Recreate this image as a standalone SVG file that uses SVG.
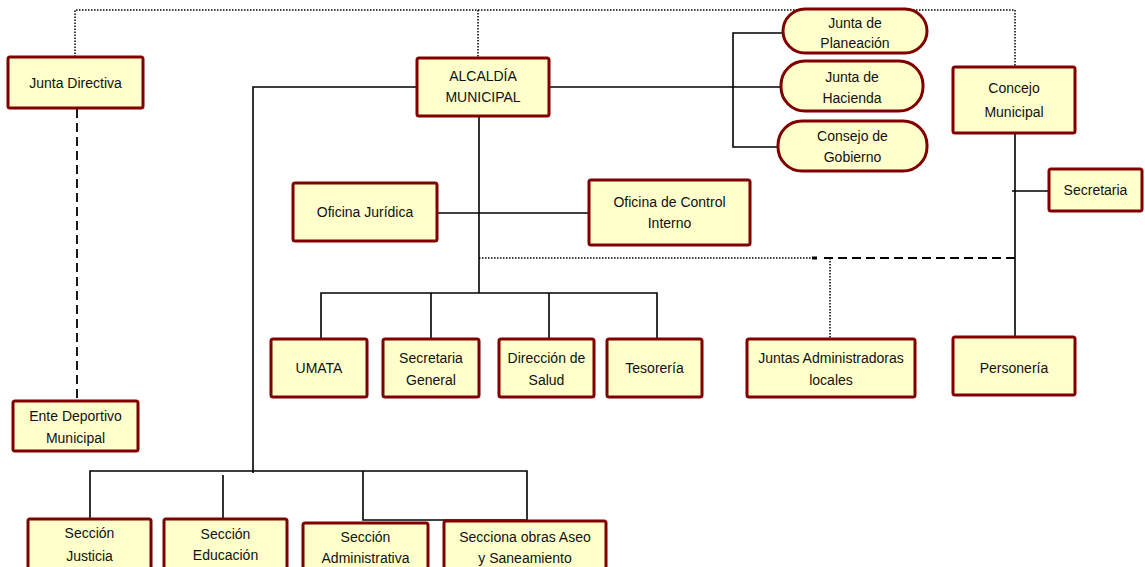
<svg xmlns="http://www.w3.org/2000/svg" width="1145" height="567" viewBox="0 0 1145 567">
<style>
.box{fill:#ffffcc;stroke:#800000;stroke-width:3}
.t{font-family:"Liberation Sans",Arial,sans-serif;font-size:14px;fill:#111;text-anchor:middle}
.s{fill:none;stroke:#000;stroke-width:1.6}
.dot{fill:none;stroke:#000;stroke-width:1.5;stroke-dasharray:1.5 1.5}
.dash{fill:none;stroke:#000;stroke-width:1.8;stroke-dasharray:9 5}
</style>
<rect width="1145" height="567" fill="#fff"/>
<g id="connectors">
<path class="dot" d="M75,57 V10 H1015 V67"/>
<path class="dot" d="M478,10 V58"/>
<path class="dash" d="M77,109 V401"/>
<path class="s" d="M417,87 H253 V473"/>
<path class="s" d="M549,87 H781"/>
<path class="s" d="M783,33 H733 V147 H778"/>
<path class="s" d="M479,116 V293"/>
<path class="s" d="M437,213 H589"/>
<path class="dot" d="M479,258 H817"/>
<rect x="812" y="256.5" width="5" height="3" fill="#000"/>
<path class="dash" d="M824,258 H1015"/>
<path class="dot" d="M830,258 V339"/>
<path class="s" d="M321,339 V293 H657 V339 M431,293 V339 M549,293 V339"/>
<path class="s" d="M1015,133 V337 M1012,191 H1049"/>
<path class="s" d="M90,519 V471 H527 V520 H363 V471 M223,475 V522"/>
</g>
<g id="junta-directiva"><rect class="box" x="8" y="57" width="135" height="51" rx="2"/><text class="t" x="75.5" y="88">Junta Directiva</text></g>
<g id="alcaldia"><rect class="box" x="417" y="58" width="132" height="58" rx="2"/><text class="t" x="483" y="81">ALCALDÍA</text><text class="t" x="483" y="102">MUNICIPAL</text></g>
<g id="junta-planeacion"><rect class="box" x="783" y="9" width="144" height="44" rx="22"/><text class="t" x="855" y="28">Junta de</text><text class="t" x="855" y="48">Planeación</text></g>
<g id="junta-hacienda"><rect class="box" x="781" y="61" width="142" height="50" rx="24"/><text class="t" x="852" y="82">Junta de</text><text class="t" x="852" y="103">Hacienda</text></g>
<g id="consejo-gobierno"><rect class="box" x="778" y="121" width="149" height="50" rx="24"/><text class="t" x="852.5" y="141">Consejo de</text><text class="t" x="852.5" y="162">Gobierno</text></g>
<g id="concejo-municipal"><rect class="box" x="953" y="67" width="122" height="66" rx="2"/><text class="t" x="1014" y="93">Concejo</text><text class="t" x="1014" y="117">Municipal</text></g>
<g id="secretaria"><rect class="box" x="1049" y="169" width="93" height="42" rx="2"/><text class="t" x="1095.5" y="195">Secretaria</text></g>
<g id="oficina-juridica"><rect class="box" x="293" y="183" width="144" height="58" rx="2"/><text class="t" x="365" y="217">Oficina Jurídica</text></g>
<g id="oficina-control"><rect class="box" x="589" y="180" width="161" height="65" rx="2"/><text class="t" x="669.5" y="207">Oficina de Control</text><text class="t" x="669.5" y="228">Interno</text></g>
<g id="umata"><rect class="box" x="271" y="339" width="96" height="58" rx="2"/><text class="t" x="319" y="373">UMATA</text></g>
<g id="secretaria-general"><rect class="box" x="383" y="339" width="96" height="58" rx="2"/><text class="t" x="431" y="363">Secretaria</text><text class="t" x="431" y="385">General</text></g>
<g id="direccion-salud"><rect class="box" x="499" y="339" width="95" height="58" rx="2"/><text class="t" x="546.5" y="363">Dirección de</text><text class="t" x="546.5" y="385">Salud</text></g>
<g id="tesoreria"><rect class="box" x="607" y="339" width="95" height="58" rx="2"/><text class="t" x="654.5" y="373">Tesorería</text></g>
<g id="juntas-administradoras"><rect class="box" x="747" y="339" width="168" height="58" rx="2"/><text class="t" x="831" y="363">Juntas Administradoras</text><text class="t" x="831" y="385">locales</text></g>
<g id="personeria"><rect class="box" x="953" y="337" width="122" height="58" rx="2"/><text class="t" x="1014" y="373">Personería</text></g>
<g id="ente-deportivo"><rect class="box" x="13" y="401" width="125" height="50" rx="2"/><text class="t" x="75.5" y="421">Ente Deportivo</text><text class="t" x="75.5" y="443">Municipal</text></g>
<g id="seccion-justicia"><rect class="box" x="28" y="519" width="123" height="52" rx="2"/><text class="t" x="89.5" y="538">Sección</text><text class="t" x="89.5" y="561">Justicia</text></g>
<g id="seccion-educacion"><rect class="box" x="164" y="519" width="123" height="52" rx="2"/><text class="t" x="225.5" y="539">Sección</text><text class="t" x="225.5" y="560">Educación</text></g>
<g id="seccion-administrativa"><rect class="box" x="303" y="523" width="125" height="48" rx="2"/><text class="t" x="365.5" y="542">Sección</text><text class="t" x="365.5" y="563">Administrativa</text></g>
<g id="seccion-obras"><rect class="box" x="444" y="521" width="162" height="50" rx="2"/><text class="t" x="525" y="542">Secciona obras Aseo</text><text class="t" x="525" y="563">y Saneamiento</text></g>
</svg>
